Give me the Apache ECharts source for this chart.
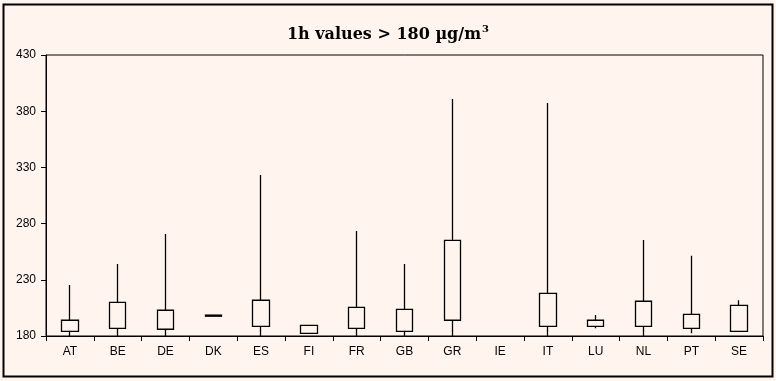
<!DOCTYPE html>
<html>
<head>
<meta charset="utf-8">
<script src="https://cdn.jsdelivr.net/npm/echarts@6/dist/echarts.min.js"></script>
<style>html,body{margin:0;padding:0;background:#FFF5EE;}#c{width:776px;height:381px;}</style>
</head>
<body>
<div id="c"></div>
<script>
var categories = ['AT','BE','DE','DK','ES','FI','FR','GB','GR','IE','IT','LU','NL','PT','SE'];
// box bottom (Q1), box top (Q3), whisker low, whisker high
var boxLow  = [184.2, 186.8, 186.0, 197.6, 188.6, 182.4, 186.8, 184.2, 194.0, null, 188.6, 188.6, 188.6, 186.8, 184.2];
var boxHigh = [194.0, 210.0, 202.9, 198.6, 211.8, 189.5, 205.5, 203.7, 265.1, null, 218.0, 194.0, 210.9, 199.3, 207.3];
var minVal  = [180, 180, 180, 197.6, 180, 182.4, 180, 180, 180, null, 180, 187.0, 180, 182.4, 184.2];
var maxVal  = [225.4, 244.0, 270.7, 198.6, 323.2, 189.5, 273.4, 244.0, 390.9, null, 387.3, 198.7, 265.4, 251.4, 211.8];
var yTicks = [180, 230, 280, 330, 380, 430];

var data = categories.map(function (c, i) {
  if (boxLow[i] === null) return ['-', '-', '-', '-'];
  return [boxLow[i], boxHigh[i], minVal[i], maxVal[i]];
});

var chart = echarts.init(document.getElementById('c'), null, {renderer: 'canvas'});
chart.setOption({
  backgroundColor: '#FFF5EE',
  animation: false,
  title: {
    text: '{t|1h values > 180 µg/m}{s|3}',
    left: 'center',
    top: 19,
    textStyle: {
      rich: {
        t: {fontFamily: '"DejaVu Serif",serif', fontWeight: 'bold', fontSize: 16, color: '#000'},
        s: {fontFamily: '"DejaVu Serif",serif', fontWeight: 'bold', fontSize: 10, color: '#000', verticalAlign: 'top', padding: [0, 0, 12, 1]}
      }
    }
  },
  graphic: [{
    type: 'rect', shape: {x: 3.5, y: 4.5, width: 769, height: 372},
    style: {fill: null, stroke: '#000', lineWidth: 2}, silent: true
  }],
  grid: {left: 46, right: 13, top: 55, bottom: 45, show: true, borderColor: '#000', borderWidth: 1, backgroundColor: 'transparent'},
  xAxis: {
    type: 'category', data: categories, boundaryGap: true,
    axisLine: {lineStyle: {color: '#000', width: 1}},
    axisTick: {show: true, inside: false, length: 5, alignWithLabel: false, lineStyle: {color: '#000'}},
    axisLabel: {color: '#000', fontFamily: 'Arial, "Liberation Sans", sans-serif', fontSize: 12, margin: 10},
    splitLine: {show: false}
  },
  yAxis: {
    type: 'value', min: 180, max: 430, interval: 50,
    axisLine: {show: true, lineStyle: {color: '#000', width: 1}},
    axisTick: {show: true, inside: false, length: 5, lineStyle: {color: '#000'}},
    axisLabel: {color: '#000', fontFamily: 'Arial, "Liberation Sans", sans-serif', fontSize: 12, margin: 10,
      formatter: function (v) { return yTicks.indexOf(v) >= 0 ? String(v) : ''; }},
    splitLine: {show: false}
  },
  series: [{
    type: 'candlestick',
    data: data,
    barWidth: 17,
    itemStyle: {color: 'transparent', color0: 'transparent', borderColor: '#000', borderColor0: '#000', borderWidth: 1.3}
  }]
});
</script>
</body>
</html>
